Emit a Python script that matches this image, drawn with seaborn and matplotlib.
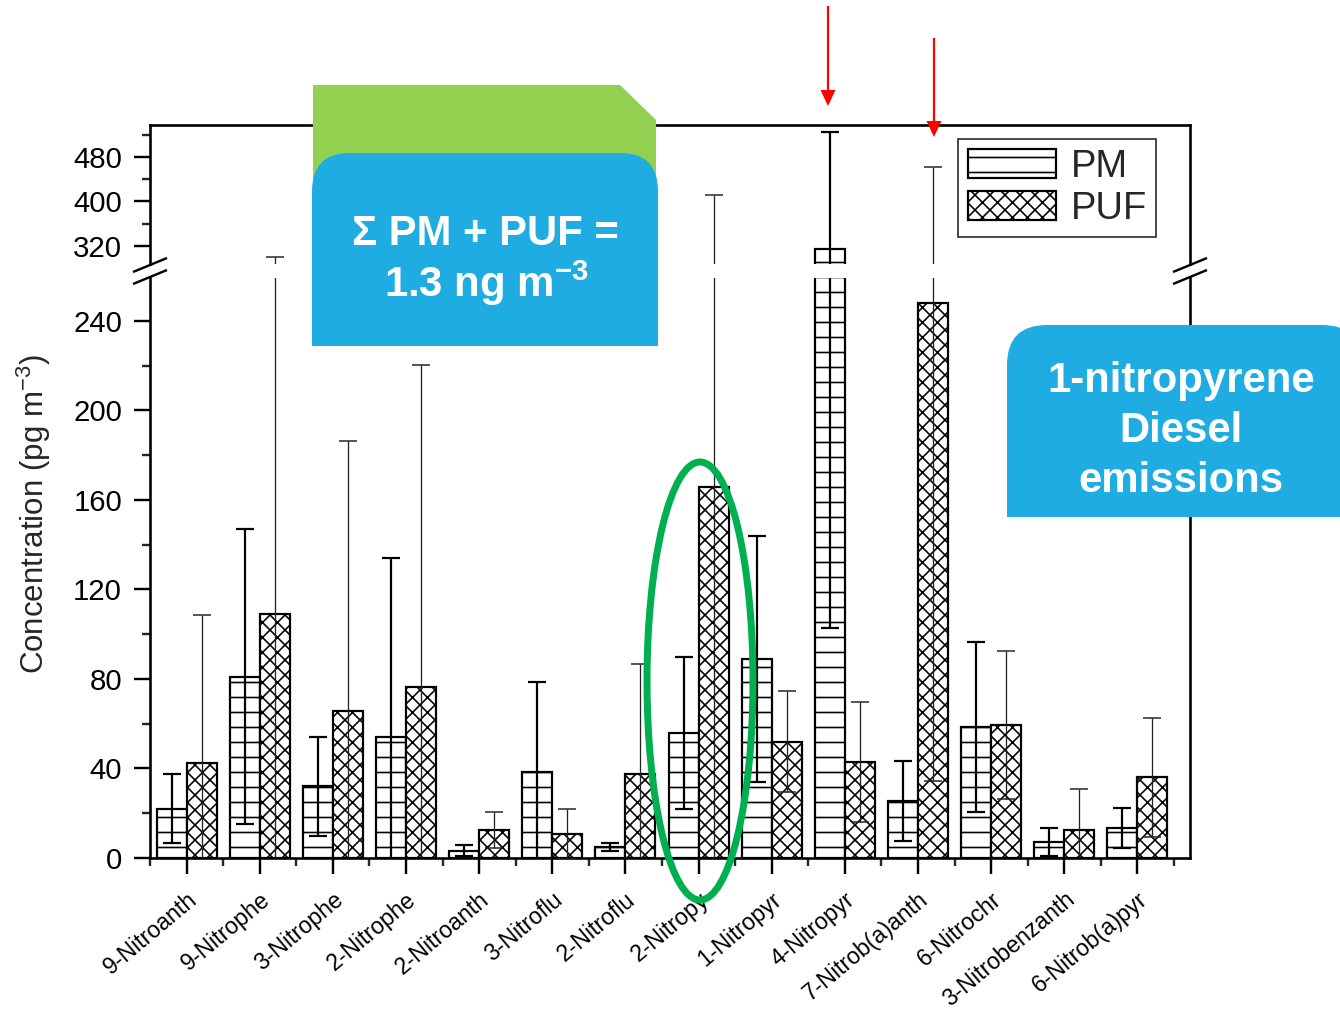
import numpy as np
import pandas as pd
import matplotlib
matplotlib.use("Agg")
import matplotlib.pyplot as plt
import seaborn as sns
from matplotlib.patches import Polygon, Ellipse, PathPatch, Patch
from matplotlib.path import Path
from matplotlib.ticker import FixedLocator

# ---------------- data ----------------
compounds = ["9-Nitroanth", "9-Nitrophe", "3-Nitrophe", "2-Nitrophe", "2-Nitroanth",
             "3-Nitroflu", "2-Nitroflu", "2-Nitropy", "1-Nitropyr", "4-Nitropyr",
             "7-Nitrob(a)anth", "6-Nitrochr", "3-Nitrobenzanth", "6-Nitrob(a)pyr"]
pm_values = [22, 81, 32, 54, 3.2, 38.5, 5, 56, 89, 314, 25.5, 58.5, 7.3, 13.5]
pm_errors = [15.5, 66, 22, 80, 2.5, 40, 1.8, 34, 55, 211, 18, 38, 6.2, 9]
puf_values = [42.5, 109, 65.5, 76.5, 12.5, 10.7, 37.5, 166, 52, 42.8, 248, 59.5, 12.5, 36]
puf_errors = [66, 191, 121, 144, 8, 11, 49, 245, 22.5, 26.7, 213.5, 33, 18.2, 26.7]
series = ["PM", "PUF"]
lower_ticks = [0, 40, 80, 120, 160, 200, 240]
upper_ticks = [320, 400, 480]
ylabel = r"Concentration (pg m$^{-3}$)"
box1_lines = ["Σ PM + PUF =", r"1.3 ng m$^{\mathbf{-3}}$"]
box2_lines = ["1-nitropyrene", "Diesel", "emissions"]

# ---------------- style ----------------
DPI = 90
W, H = 1340, 1013
PT = 72.0 / DPI  # points per pixel

sns.set_theme(style="ticks")
plt.rcParams["font.family"] = ["Liberation Sans", "DejaVu Sans"]
plt.rcParams.update({
    "mathtext.fontset": "custom",
    "mathtext.rm": "Liberation Sans",
    "mathtext.it": "Liberation Sans:italic",
    "mathtext.bf": "Liberation Sans:bold",
    "hatch.linewidth": 1.3,
    "hatch.color": "black",
})

df = pd.DataFrame({
    "compound": compounds * 2,
    "phase": [series[0]] * len(compounds) + [series[1]] * len(compounds),
    "conc": pm_values + puf_values,
})

fig = plt.figure(figsize=(W / DPI, H / DPI), dpi=DPI)


def rect(l, t, r, b):
    return [l / W, 1 - b / H, (r - l) / W, (b - t) / H]


ax_top = fig.add_axes(rect(150, 125, 1190, 264))
ax_bot = fig.add_axes(rect(150, 278, 1190, 858))

hatches = {"PM": "-", "PUF": "xx"}
err_style = {"PM": dict(ecolor="black", elinewidth=2.2 * PT, capthick=2.2 * PT),
             "PUF": dict(ecolor="#222222", elinewidth=1.3 * PT, capthick=1.5 * PT)}
errs = {"PM": pm_errors, "PUF": puf_errors}
vals = {"PM": pm_values, "PUF": puf_values}

for ax in (ax_top, ax_bot):
    sns.barplot(data=df, x="compound", y="conc", hue="phase", hue_order=series,
                order=compounds, width=0.82, errorbar=None, ax=ax, legend=False,
                saturation=1)
    bar_conts = list(ax.containers)
    for cont, name in zip(bar_conts, series):
        for p in cont:
            p.set_facecolor("white")
            p.set_edgecolor("black")
            p.set_linewidth(2.2 * PT)
            p.set_hatch(hatches[name])
        xs = [p.get_x() + p.get_width() / 2 for p in cont]
        ax.errorbar(xs, vals[name], yerr=errs[name], fmt="none", capsize=17 * PT / 2,
                    zorder=4, **err_style[name])
    ax.set_xlabel("")
    ax.set_ylabel("")
    ax.set_xlim(-0.5, 13.72)
    for s in ax.spines.values():
        s.set_color("black")
        s.set_linewidth(2.6 * PT)

ax_bot.set_ylim(0, 259.2)
ax_top.set_ylim(287.6, 537.5)
ax_top.spines["bottom"].set_visible(False)
ax_bot.spines["top"].set_visible(False)

ax_bot.yaxis.set_major_locator(FixedLocator(lower_ticks))
ax_bot.yaxis.set_minor_locator(FixedLocator(list(np.array(lower_ticks) + 20)))
ax_top.yaxis.set_major_locator(FixedLocator(upper_ticks))
ax_top.yaxis.set_minor_locator(FixedLocator(list(np.array(upper_ticks) + 40)))

for ax in (ax_top, ax_bot):
    ax.tick_params(axis="y", which="major", direction="out", length=16 * PT,
                   width=2.4 * PT, labelsize=23.5, pad=12 * PT, colors="black",
                   left=True, right=False)
    ax.tick_params(axis="y", which="minor", direction="out", length=8 * PT,
                   width=2.4 * PT, left=True, right=False)

ax_top.tick_params(axis="x", which="both", bottom=False, top=False, labelbottom=False)
ax_bot.set_xticks(range(len(compounds)))
ax_bot.xaxis.set_minor_locator(FixedLocator(list(np.arange(-0.5, len(compounds), 1.0))))
ax_bot.tick_params(axis="x", which="major", direction="out", length=16 * PT,
                   width=2.4 * PT, pad=11, colors="black", bottom=True, top=False)
ax_bot.tick_params(axis="x", which="minor", direction="out", length=8 * PT,
                   width=2.4 * PT, bottom=True, top=False)
ax_bot.set_xticklabels(compounds, rotation=40, ha="right", va="top",
                       rotation_mode="anchor", fontsize=18.5)

fig.text(34 / W, 1 - 514 / H, ylabel, rotation=90, ha="center", va="center",
         fontsize=25)

# legend
handles = [Patch(facecolor="white", edgecolor="black", hatch=hatches[s], linewidth=2.2 * PT)
           for s in series]
leg = ax_top.legend(handles, series, loc="upper left",
                    bbox_to_anchor=(958 / W, 1 - 139 / H), bbox_transform=fig.transFigure,
                    borderaxespad=0, fontsize=30.5, handlelength=2.33, handleheight=0.78,
                    handletextpad=0.37, labelspacing=0.17, borderpad=0.25,
                    fancybox=False, framealpha=1, edgecolor="#222222")
leg.get_frame().set_linewidth(1.6 * PT)

# ---------------- overlay annotations (pixel coordinates) ----------------
ov = fig.add_axes([0, 0, 1, 1], zorder=10)
ov.set_xlim(0, W)
ov.set_ylim(H, 0)
ov.axis("off")
ov.patch.set_alpha(0)

# axis break marks
for xc in (150, 1190):
    for yc in (265, 277):
        ov.plot([xc - 17, xc + 17], [yc + 7, yc - 7], color="black", lw=2.4 * PT,
                solid_capstyle="butt")


def rounded_top(x0, y0, x1, y1, r):
    verts = [(x0, y1), (x0, y0 + r), (x0, y0), (x0 + r, y0), (x1 - r, y0), (x1, y0),
             (x1, y0 + r), (x1, y1), (x0, y1)]
    codes = [Path.MOVETO, Path.LINETO, Path.CURVE3, Path.CURVE3, Path.LINETO,
             Path.CURVE3, Path.CURVE3, Path.LINETO, Path.CLOSEPOLY]
    return Path(verts, codes)


green = "#92D050"
blue = "#1EACE3"
ov.add_patch(Polygon([(313, 85), (620, 85), (656, 120), (656, 260), (313, 260)],
                     closed=True, facecolor=green, edgecolor="none"))
ov.add_patch(PathPatch(rounded_top(312, 153, 658, 346, 38), facecolor=blue,
                       edgecolor="none"))
ov.add_patch(PathPatch(rounded_top(1007, 325, 1362, 517, 40), facecolor=blue,
                       edgecolor="none"))

ov.text(485, 245, box1_lines[0], color="white", fontsize=33.5, fontweight="bold",
        ha="center", va="baseline")
ov.text(486, 297, box1_lines[1], color="white", fontsize=33.5, fontweight="bold",
        ha="center", va="baseline")
for i, line in enumerate(box2_lines):
    ov.text(1181, 392 + 50 * i, line, color="white", fontsize=33.5, fontweight="bold",
            ha="center", va="baseline")

ov.add_patch(Ellipse((700, 681), 106, 438, fill=False, edgecolor="#00B050",
                     linewidth=7 * PT))

for (xa, ya0, ya1) in [(828, 6, 106), (934, 38, 137)]:
    ov.arrow(xa, ya0, 0, ya1 - ya0, width=2.2, head_width=15, head_length=16,
             length_includes_head=True, color="#FF0000", lw=0)

fig.savefig("out.png", dpi=DPI)
